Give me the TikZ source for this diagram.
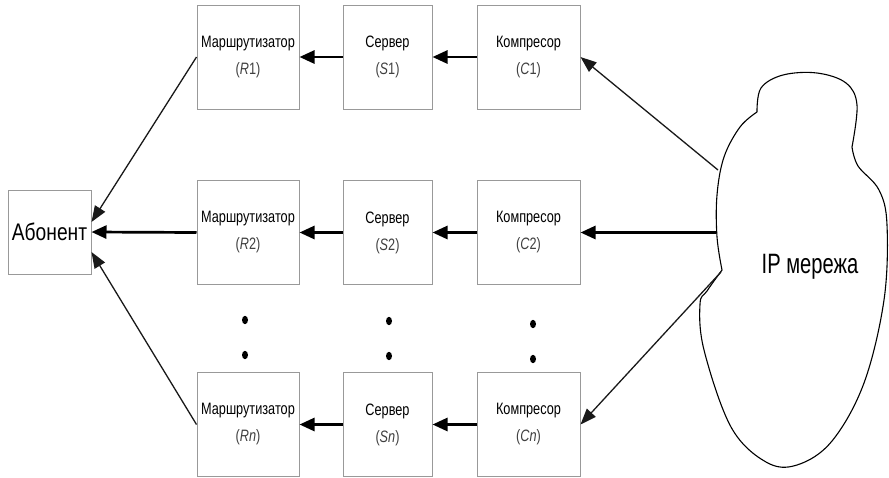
\documentclass[tikz,border=0pt]{standalone}
\usepackage{fontspec}
\setmainfont{Liberation Sans}
\newfontfamily\narrowfont[FakeStretch=0.77]{Liberation Sans}
\newfontfamily\abfont[FakeStretch=0.8]{Liberation Sans}
\newfontfamily\ipfont[FakeStretch=0.72]{Liberation Sans}
\usetikzlibrary{arrows.meta}
\begin{document}
\begin{tikzpicture}[x=1pt,y=-1pt,
  box/.style={draw=black!40, line width=1pt, fill=white, inner sep=0pt, align=center,
    font=\narrowfont\fontsize{16.5}{27}\selectfont},
  rbox/.style={box, minimum width=102pt, minimum height=104pt},
  sbox/.style={box, minimum width=89pt, minimum height=104pt},
  cbox/.style={box, minimum width=103pt, minimum height=104pt},
  thickarr/.style={line width=2.7pt, -{Triangle[length=15pt,width=13pt]}},
  thinarr/.style={line width=1.3pt, black!90, -{Triangle[length=16pt,width=12pt]}}
]
\useasboundingbox (0,0) rectangle (889,477);

% boxes
\node[box, minimum width=83pt, minimum height=84pt,
      font=\abfont\fontsize{24}{28}\selectfont] (ab) at (49.5,232) {Абонент};

\node[rbox] (R1) at (248,57) {Маршрутизатор\\{\color{black!75}(\textit{R}1)}};
\node[sbox] (S1) at (387.5,57) {Сервер\\{\color{black!75}(\textit{S}1)}};
\node[cbox] (C1) at (528.5,57) {Компресор\\{\color{black!75}(\textit{C}1)}};

\node[rbox] (R2) at (248,232.5) {Маршрутизатор\\{\color{black!75}(\textit{R}2)}};
\node[sbox] (S2) at (387.5,232.5) {Сервер\\{\color{black!75}(\textit{S}2)}};
\node[cbox] (C2) at (528.5,232.5) {Компресор\\{\color{black!75}(\textit{C}2)}};

\node[rbox] (Rn) at (248,424.5) {Маршрутизатор\\{\color{black!75}(\textit{Rn})}};
\node[sbox] (Sn) at (387.5,424.5) {Сервер\\{\color{black!75}(\textit{Sn})}};
\node[cbox] (Cn) at (528.5,424.5) {Компресор\\{\color{black!75}(\textit{Cn})}};

% dots
\foreach \x/\ya/\yb in {245/320/355, 389/321/356, 533/324/359}{
  \fill (\x,\ya) ellipse [x radius=3pt, y radius=4.2pt];
  \fill (\x,\yb) ellipse [x radius=3pt, y radius=4.2pt];
}

% cloud
\draw[line width=1.1pt]
  plot[smooth, tension=0.6] coordinates {(757,112) (761,88) (783,75) (817,73) (846,83) (857,105) (852,147)}
  -- plot[smooth, tension=0.6] coordinates {(852,147) (858,166) (879,190) (887,225) (884,300) (864,383) (832,441) (797,465) (766,462) (731,427) (704,350) (700,304) (707,291) (722,270)}
  -- plot[smooth, tension=0.6] coordinates {(722,270) (717,237) (717,195) (724,157) (740,127) (757,112)};
\node[font=\ipfont\fontsize{28}{32}\selectfont] (ip) at (810,267) {IP мережа};

\coordinate (cl1) at (718,170);
\coordinate (cl2) at (716,232.5);
\coordinate (cl3) at (721,272);

% connectors
\draw[thickarr] (S1) -- (R1);
\draw[thickarr] (C1) -- (S1);
\draw[thickarr] (S2) -- (R2);
\draw[thickarr] (C2) -- (S2);
\draw[thickarr] (Sn) -- (Rn);
\draw[thickarr] (Cn) -- (Sn);

\draw[thinarr] (cl1) -- (C1.east);
\draw[thickarr] (cl2) -- (C2.east);
\draw[thinarr] (cl3) -- (Cn.east);

\draw[thinarr] (R1.west) -- ([yshift=10pt]ab.east);
\draw[thickarr] (R2.west) -- (ab.east);
\draw[thinarr] (Rn.west) -- ([yshift=-20pt]ab.east);
\end{tikzpicture}
\end{document}
